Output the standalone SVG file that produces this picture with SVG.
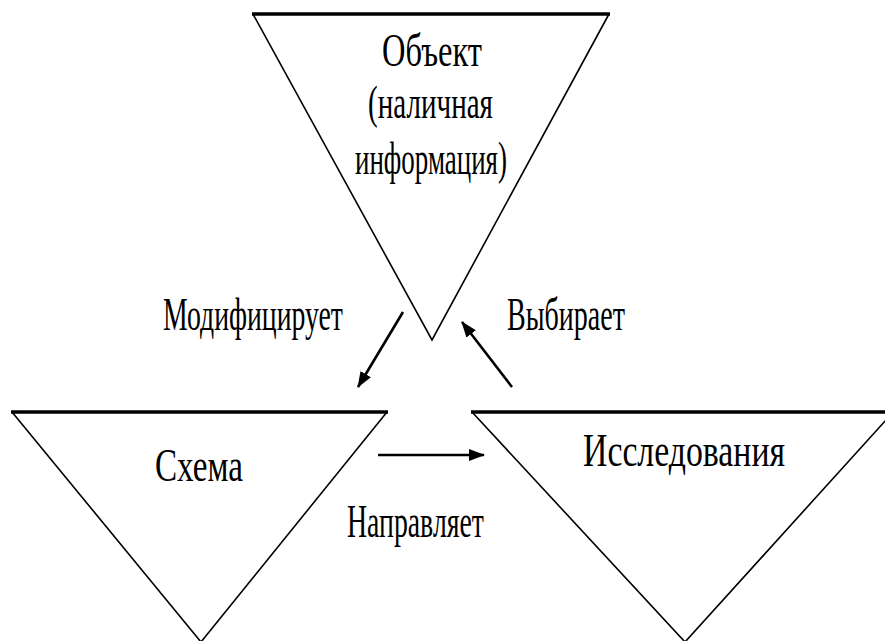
<svg xmlns="http://www.w3.org/2000/svg" width="885" height="641" viewBox="0 0 885 641">
<defs>
<style>
.tri{fill:none;stroke:#000;stroke-width:1.6;stroke-linejoin:miter}
.top{stroke:#000;stroke-width:3.5;fill:none}
.lbl{font-family:"Liberation Serif","DejaVu Serif",serif;font-size:47px;fill:#000}
.con{stroke:#000;stroke-width:2.6;fill:none}
</style>
<marker id="ah" viewBox="0 0 16 12" refX="15" refY="6" markerWidth="16" markerHeight="12" markerUnits="userSpaceOnUse" orient="auto">
<path d="M0,0 L16,6 L0,12 z" fill="#000"/>
</marker>
</defs>
<rect width="885" height="641" fill="#fff"/>
<g id="object">
<path class="tri" d="M253,14 L432,340 L609,14"/>
<line class="top" x1="252" y1="14" x2="610" y2="14"/>
<text class="lbl" x="382" y="66" textLength="100" lengthAdjust="spacingAndGlyphs">Объект</text>
<text class="lbl" x="368" y="118" textLength="125" lengthAdjust="spacingAndGlyphs">(наличная</text>
<text class="lbl" x="355" y="174" textLength="152" lengthAdjust="spacingAndGlyphs">информация)</text>
</g>
<g id="schema">
<path class="tri" d="M12,412 L201,642 L387,412"/>
<line class="top" x1="11" y1="412" x2="388" y2="412"/>
<text class="lbl" x="155" y="481" textLength="88" lengthAdjust="spacingAndGlyphs">Схема</text>
</g>
<g id="research">
<path class="tri" d="M472,412 L685,642 L886,420"/>
<line class="top" x1="471" y1="412" x2="885" y2="412"/>
<text class="lbl" x="583" y="466" textLength="202" lengthAdjust="spacingAndGlyphs">Исследования</text>
</g>
<g id="connectors">
<line class="con" x1="403" y1="312" x2="358" y2="387" marker-end="url(#ah)"/>
<line class="con" x1="512" y1="387" x2="462" y2="322" marker-end="url(#ah)"/>
<line class="con" x1="378" y1="455" x2="484" y2="455" marker-end="url(#ah)"/>
<text class="lbl" x="163" y="330" textLength="180" lengthAdjust="spacingAndGlyphs">Модифицирует</text>
<text class="lbl" x="507" y="330" textLength="118" lengthAdjust="spacingAndGlyphs">Выбирает</text>
<text class="lbl" x="347" y="537" textLength="137" lengthAdjust="spacingAndGlyphs">Направляет</text>
</g>
</svg>
